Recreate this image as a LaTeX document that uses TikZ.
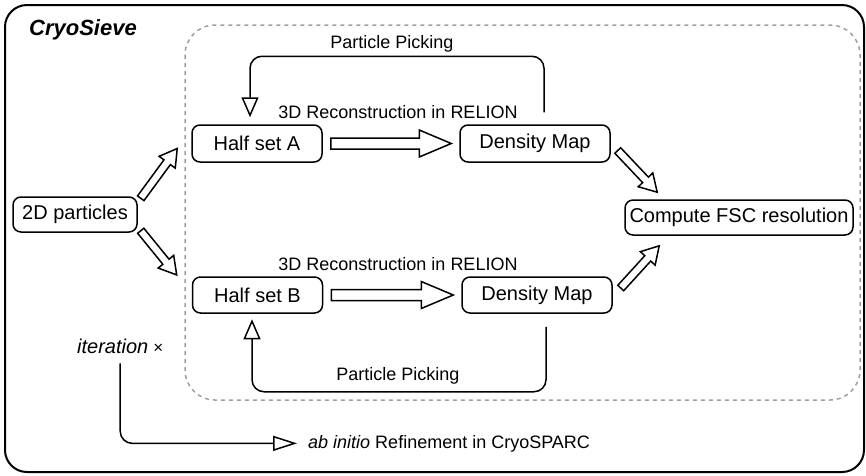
\documentclass[tikz,border=0pt]{standalone}
\usepackage{fontspec}
\setmainfont{Liberation Sans}
\usetikzlibrary{positioning,arrows.meta,calc}

\definecolor{dashgray}{RGB}{160,160,160}

% hollow block arrow: from, to, shaft half width, head length, head half width
\newcommand{\fatarrow}[5]{%
  \draw[fat] let \p1=(#1), \p2=(#2),
    \n1={atan2((\y2)-(\y1),(\x2)-(\x1))}, \n2={veclen((\x2)-(\x1),(\y2)-(\y1))} in
    [shift={(\p1)}, rotate=\n1]
    (0pt,-#3pt) -- ({(\n2-#4)*1pt},-#3pt) -- ({(\n2-#4)*1pt},-#5pt)
    -- ({\n2*1pt},0pt) -- ({(\n2-#4)*1pt},#5pt) -- ({(\n2-#4)*1pt},#3pt)
    -- (0pt,#3pt) -- cycle;}

\begin{document}
\begin{tikzpicture}[x=1pt, y=-1pt,
  box/.style={draw, line width=1.5pt, rounded corners=8pt, minimum height=37pt,
              inner sep=0pt, font=\fontsize{20}{24}\selectfont},
  lbl/.style={inner sep=0pt, font=\fontsize{18}{22}\selectfont},
  fat/.style={draw, line width=1.5pt, fill=white, line join=miter},
  pick/.style={line width=1.5pt, rounded corners=12pt,
               -{Triangle[open, length=20pt, width=17pt]}}
]
\useasboundingbox (0,0) rectangle (866,475);
\draw[line width=2pt, rounded corners=22pt] (5,5) rectangle (864,472);
\draw[dashgray, line width=1.5pt, dash pattern=on 4pt off 4pt, rounded corners=30pt]
  (185,25) rectangle (860,400);

\node[anchor=base west, inner sep=0pt, font=\fontsize{22}{26}\selectfont\bfseries\itshape]
  (title) at (29,35) {CryoSieve};

\node[box, minimum width=124pt, minimum height=35pt] (parts) at (75,214.5) {2D particles};
\node[box, minimum width=130pt] (halfA) at (257,143.5) {Half set A};
\node[box, minimum width=150pt] (densA) at (535,143.5) {Density Map};
\node[box, minimum width=130pt, minimum height=36pt] (halfB) at (257.5,295) {Half set B};
\node[box, minimum width=150pt, minimum height=36pt] (densB) at (537,295) {Density Map};
\node[box, minimum width=228pt, minimum height=35pt] (fsc) at (739,217.5) {Compute FSC resolution};

\node[lbl, anchor=base] (reconA) at (398,118) {3D Reconstruction in RELION};
\node[lbl, anchor=base] (reconB) at (398,270) {3D Reconstruction in RELION};
\node[lbl, anchor=base] (pickA) at (392,48) {Particle Picking};
\node[lbl, anchor=base] (pickB) at (398,380) {Particle Picking};

\node[anchor=base west, inner sep=1pt, font=\fontsize{20}{24}\selectfont]
  (iter) at (76,353) {\textit{iteration}\hspace{5pt}{\fontsize{17}{20}\selectfont ×}};
\node[lbl, anchor=base west] (refine) at (308,448) {\textit{ab initio} Refinement in CryoSPARC};

% block arrows
\fatarrow{[shift={(3pt,-2pt)}]parts.north east}{[shift={(-14pt,-5pt)}]halfA.west}{4}{17}{10}
\fatarrow{[shift={(3pt,2pt)}]parts.south east}{[shift={(-15pt,20pt)}]halfB.west}{4}{17}{10}
\fatarrow{[xshift=8pt]halfA.east}{[xshift=-8pt]densA.west}{5.5}{32}{13.5}
\fatarrow{[xshift=8pt]halfB.east}{[xshift=-8pt]densB.west}{5.5}{32}{13.5}
\fatarrow{[shift={(7pt,-7pt)}]densA.east}{[shift={(33pt,7pt)}]fsc.north west}{4}{17}{10}
\fatarrow{[shift={(8pt,7pt)}]densB.east}{[shift={(35pt,-10pt)}]fsc.south west}{4}{17}{10}

% particle picking loops
\draw[pick] ([shift={(9pt,12pt)}]densA.north) -- ++(0,-56) -| ([shift={(-7pt,7pt)}]halfA.north);
\draw[pick] ([shift={(9pt,-13pt)}]densB.south) -- ++(0,65) -| ([shift={(-5.5pt,-5.5pt)}]halfB.south);

% iteration
\draw[line width=1.5pt, rounded corners=12pt, -{Triangle[open, length=24pt, width=15pt]}]
  ([yshift=-9pt]iter.south) |- ([xshift=-11pt]refine.west);
\end{tikzpicture}
\end{document}
